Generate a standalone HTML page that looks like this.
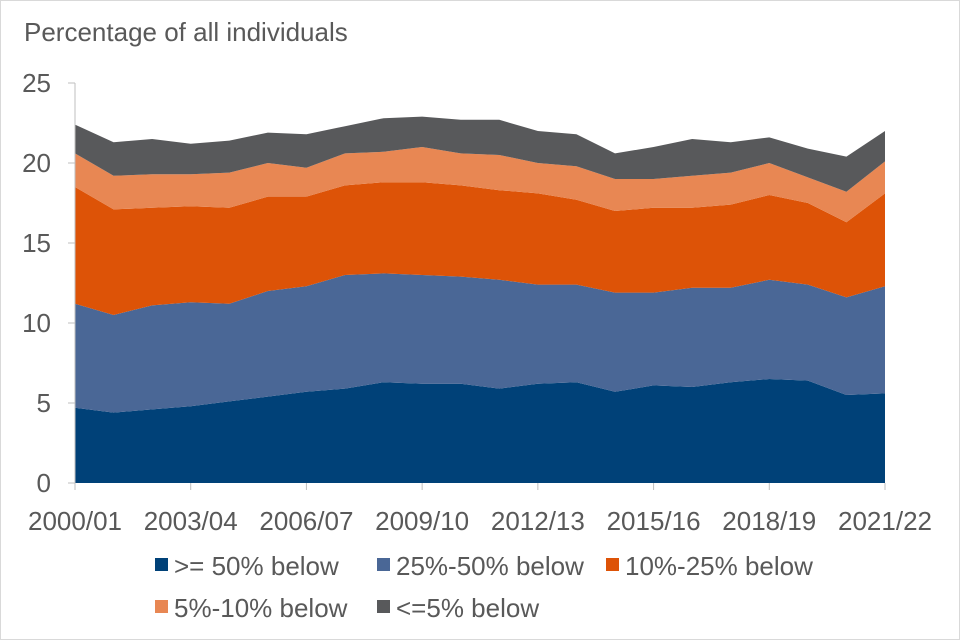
<!DOCTYPE html>
<html><head><meta charset="utf-8"><style>
body{margin:0;background:#fff}
svg{display:block;font-family:"Liberation Sans",sans-serif}
</style></head><body>
<svg id="chart" width="960" height="640">
<rect x="0.5" y="0.5" width="959" height="639" fill="#fff" stroke="#d9d9d9"/>
<text x="24" y="41" font-size="26" fill="#595959">Percentage of all individuals</text>
<g id="areas"></g><g id="axes"></g><g id="legend"></g>
</svg>
<script>
const categories=["2000/01","2001/02","2002/03","2003/04","2004/05","2005/06","2006/07","2007/08","2008/09","2009/10","2010/11","2011/12","2012/13","2013/14","2014/15","2015/16","2016/17","2017/18","2018/19","2019/20","2020/21","2021/22"];
const s50=[4.7,4.4,4.6,4.8,5.1,5.4,5.7,5.9,6.3,6.2,6.2,5.9,6.2,6.3,5.7,6.1,6.0,6.3,6.5,6.4,5.5,5.6];
const s25=[6.5,6.1,6.5,6.5,6.1,6.6,6.6,7.1,6.8,6.8,6.7,6.8,6.2,6.1,6.2,5.8,6.2,5.9,6.2,6.0,6.1,6.7];
const s10=[7.3,6.6,6.1,6.0,6.0,5.9,5.6,5.6,5.7,5.8,5.7,5.6,5.7,5.3,5.1,5.3,5.0,5.2,5.3,5.1,4.7,5.8];
const s5=[2.1,2.1,2.1,2.0,2.2,2.1,1.8,2.0,1.9,2.2,2.0,2.2,1.9,2.1,2.0,1.8,2.0,2.0,2.0,1.6,1.9,2.0];
const s0=[1.8,2.1,2.2,1.9,2.0,1.9,2.1,1.7,2.1,1.9,2.1,2.2,2.0,2.0,1.6,2.0,2.3,1.9,1.6,1.8,2.2,1.9];
const seriesNames=[">= 50% below","25%-50% below","10%-25% below","5%-10% below","<=5% below"];
const yTicks=[0,5,10,15,20,25];
const xLabelIdx=[0,3,6,9,12,15,18,21];
const series=[s50,s25,s10,s5,s0];
const colors=["#004178","#4a6796","#dd5307","#e88753","#58595b"];
const X0=75,X1=885,Y0=483,Y1=83,YMAX=25;
const x=i=>X0+(X1-X0)*i/(categories.length-1);
const y=v=>Y0-(Y0-Y1)*v/YMAX;
const NS="http://www.w3.org/2000/svg";
const mk=(t,a,p)=>{const e=document.createElementNS(NS,t);for(const k in a)e.setAttribute(k,a[k]);p.appendChild(e);return e;};
const areas=document.getElementById('areas');
let base=categories.map(()=>0);
series.forEach((s,si)=>{
  const top=base.map((b,i)=>b+s[i]);
  let d=top.map((v,i)=>(i?'L':'M')+x(i)+','+y(v)).join('');
  for(let i=base.length-1;i>=0;i--)d+='L'+x(i)+','+y(base[i]);
  const p=mk('path',{d:d+'Z',fill:colors[si]},areas);
  
  
  base=top;
});
const axes=document.getElementById('axes');
const al=mk('line',{x1:X0,y1:Y0,x2:X0,y2:Y1,stroke:'#bfbfbf'},axes);


yTicks.forEach(t=>{
  const tk=mk('line',{x1:X0-7,x2:X0,y1:y(t),y2:y(t),stroke:'#bfbfbf'},axes);
  
  
  const tx=mk('text',{x:51,y:y(t)+9,'text-anchor':'end','font-size':26,fill:'#595959'},axes);
  tx.textContent=t;
  
  
});
xLabelIdx.forEach(i=>{
  const tk=mk('line',{x1:x(i),x2:x(i),y1:Y0,y2:Y0+7,stroke:'#bfbfbf'},axes);
  
  
  const tx=mk('text',{x:x(i),y:530,'text-anchor':'middle','font-size':26,fill:'#595959'},axes);
  tx.textContent=categories[i];
  
  
});
const leg=document.getElementById('legend');
const pos=[[155,575],[377,575],[606,575],[155,617],[377,617]];
seriesNames.forEach((n,i)=>{
  const g=mk('g',{},leg);
  
  
  mk('rect',{x:pos[i][0],y:pos[i][1]-17,width:13,height:13,fill:colors[i]},g);
  const t=mk('text',{x:pos[i][0]+19,y:pos[i][1],'font-size':26,fill:'#595959'},g);
  t.textContent=n;
});
</script>
</body></html>
